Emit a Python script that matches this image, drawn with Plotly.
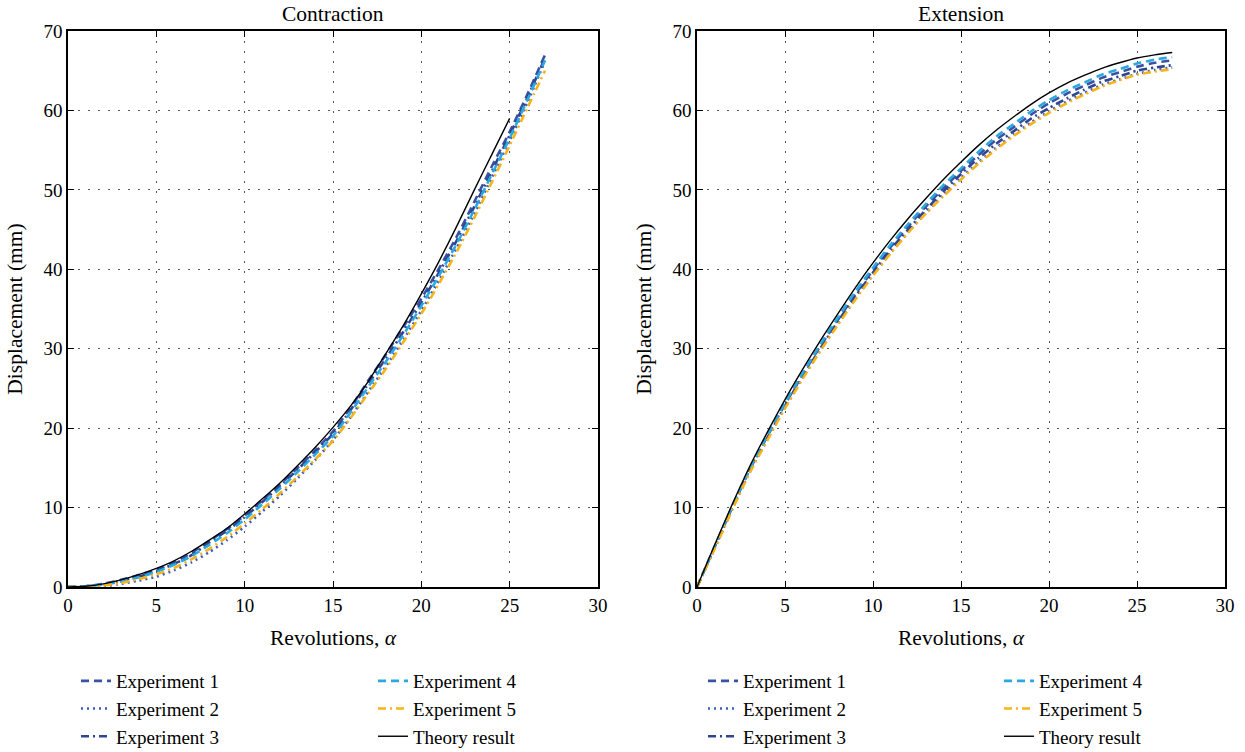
import plotly.graph_objects as go

# ---------------- data ----------------
alpha = list(range(0, 28))          # revolutions for experiments (0..27)
alpha_theory_c = list(range(0, 26)) # contraction theory (0..25)
alpha_theory_e = list(range(0, 28)) # extension theory (0..27)

# Contraction
c_theory = [0, 0.1, 0.4, 0.9, 1.55, 2.35, 3.3, 4.5, 5.9, 7.4, 9.2, 11.1, 13.1, 15.3, 17.6,
            20.1, 22.8, 25.9, 29.4, 33.0, 36.9, 41.0, 45.4, 50.0, 54.5, 59.0]
c_exp1 = [0, 0.1, 0.4, 0.9, 1.5, 2.2, 3.1, 4.3, 5.8, 7.3, 9.0, 10.9, 12.9, 15.0, 17.2, 19.6,
          22.6, 26.0, 29.3, 32.8, 36.3, 40.1, 44.1, 48.5, 53.0, 57.3, 62.0, 67.0]
c_exp2 = [0, 0, 0.1, 0.4, 0.8, 1.3, 2.1, 3.1, 4.4, 5.9, 7.6, 9.5, 11.5, 13.7, 16.0, 18.5,
          21.4, 24.6, 27.8, 31.2, 34.8, 38.6, 42.7, 47.0, 51.6, 56.2, 61.0, 66.2]
c_exp3 = [0, 0.1, 0.3, 0.8, 1.3, 2.0, 2.9, 4.0, 5.6, 7.1, 8.8, 10.7, 12.7, 14.8, 17.0, 19.3,
          22.3, 25.6, 28.8, 32.2, 35.8, 39.6, 43.6, 47.9, 52.4, 56.9, 61.6, 66.6]
c_exp4 = [0, 0.1, 0.3, 0.7, 1.2, 1.9, 2.8, 3.9, 5.3, 6.8, 8.5, 10.4, 12.4, 14.5, 16.7, 19.0,
          22.0, 25.2, 28.4, 31.8, 35.4, 39.2, 43.2, 47.5, 52.0, 56.5, 61.3, 66.3]
c_exp5 = [0, 0, 0.2, 0.5, 1.0, 1.6, 2.4, 3.5, 4.8, 6.3, 8.0, 9.8, 11.8, 13.9, 16.1, 18.4,
          21.3, 24.4, 27.5, 30.9, 34.4, 38.2, 42.2, 46.5, 51.0, 55.6, 60.3, 65.0]

# Extension
e_theory = [0, 5.3, 10.4, 15.2, 19.5, 23.6, 27.4, 31.0, 34.4, 37.7, 40.8, 43.7, 46.4, 48.9,
            51.3, 53.5, 55.6, 57.5, 59.2, 60.8, 62.2, 63.4, 64.4, 65.3, 66.0, 66.6, 67.0, 67.3]
e_exp1 = [0, 5.0, 10.0, 14.8, 19.0, 23.0, 26.7, 30.3, 33.6, 36.9, 39.9, 42.8, 45.4, 47.9,
          50.2, 52.4, 54.4, 56.3, 57.9, 59.5, 60.9, 62.1, 63.1, 64.1, 64.8, 65.5, 66.0, 66.3]
e_exp2 = [0, 4.9, 9.8, 14.5, 18.6, 22.6, 26.3, 29.8, 33.1, 36.3, 39.3, 42.1, 44.7, 47.1,
          49.4, 51.5, 53.5, 55.3, 57.0, 58.5, 59.9, 61.1, 62.2, 63.2, 63.9, 64.6, 65.1, 65.4]
e_exp3 = [0, 4.9, 9.9, 14.7, 18.8, 22.8, 26.5, 30.0, 33.4, 36.6, 39.6, 42.5, 45.0, 47.5,
          49.8, 52.0, 54.0, 55.8, 57.4, 59.0, 60.3, 61.5, 62.6, 63.6, 64.3, 65.0, 65.4, 65.7]
e_exp4 = [0, 5.1, 10.1, 14.9, 19.1, 23.2, 26.9, 30.5, 33.9, 37.2, 40.2, 43.1, 45.7, 48.2,
          50.6, 52.7, 54.8, 56.7, 58.3, 59.9, 61.3, 62.5, 63.5, 64.5, 65.2, 65.9, 66.4, 66.7]
e_exp5 = [0, 4.8, 9.7, 14.4, 18.5, 22.5, 26.2, 29.7, 33.0, 36.2, 39.2, 42.0, 44.6, 47.0,
          49.2, 51.3, 53.3, 55.1, 56.8, 58.3, 59.7, 60.9, 62.0, 63.0, 63.8, 64.5, 64.9, 65.2]

names = ["Experiment 1", "Experiment 2", "Experiment 3", "Experiment 4", "Experiment 5", "Theory result"]
titles = ["Contraction", "Extension"]
x_ticks = [0, 5, 10, 15, 20, 25, 30]
y_ticks = [0, 10, 20, 30, 40, 50, 60, 70]

# ---------------- styles ----------------
FONT = "Liberation Serif"
TITLE_SIZE = 21.5
LEG_SIZE = 19
styles = [
    dict(color="#3a52a3", dash="8px,5px", width=2.6),
    dict(color="#3c5cc0", dash="2px,4px", width=2.6),
    dict(color="#2f4590", dash="8px,4px,2px,4px", width=2.6),
    dict(color="#2aa9e0", dash="8px,5px", width=2.6),
    dict(color="#f6b418", dash="8px,4px,2px,4px", width=2.6),
    dict(color="#000000", dash="solid", width=1.4),
]

fig = go.Figure()

panels = [
    (1, [c_exp1, c_exp2, c_exp3, c_exp4, c_exp5], alpha_theory_c, c_theory, ("legend", "legend2")),
    (2, [e_exp1, e_exp2, e_exp3, e_exp4, e_exp5], alpha_theory_e, e_theory, ("legend3", "legend4")),
]

for idx, exps, ath, th, legs in panels:
    xa = "x" if idx == 1 else "x2"
    ya = "y" if idx == 1 else "y2"
    series = exps + [th]
    for k, (name, ys) in enumerate(zip(names, series)):
        xs = ath if k == 5 else alpha
        st = styles[k]
        fig.add_trace(go.Scatter(
            x=xs, y=ys, mode="lines", name=name,
            line=dict(color=st["color"], dash=st["dash"], width=st["width"], shape="spline", smoothing=0.6),
            xaxis=xa, yaxis=ya,
            legend=legs[0] if k in (0, 1, 2) else legs[1],
        ))

axis_common = dict(
    range=[0, 30], tickvals=x_ticks, ticks="inside", ticklen=6, tickwidth=1.2, tickcolor="black",
    showline=True, linecolor="black", linewidth=1.5, mirror="ticks",
    showgrid=True, gridcolor="#555555", gridwidth=1, griddash="1.5px,8.5px",
    zeroline=False, automargin=False,
    tickfont=dict(family=FONT, size=19, color="black"),
)
yaxis_common = dict(axis_common)
yaxis_common.update(range=[0, 70], tickvals=y_ticks)

dom_l = [68 / 1245, 598 / 1245]
dom_r = [697 / 1245, 1225 / 1245]
dom_y = [1 - 587 / 752, 1 - 31 / 752]

xtitle = dict(text="Revolutions, <i>α</i>", font=dict(family=FONT, size=TITLE_SIZE))
ytitle = dict(text="Displacement (mm)", font=dict(family=FONT, size=TITLE_SIZE))

fig.update_layout(
    width=1245, height=752,
    margin=dict(l=0, r=0, t=0, b=0, autoexpand=False),
    paper_bgcolor="white", plot_bgcolor="white",
    font=dict(family=FONT, size=19, color="black"),
    xaxis=dict(axis_common, domain=dom_l, anchor="y", title=xtitle),
    yaxis=dict(yaxis_common, domain=dom_y, anchor="x", title=ytitle),
    xaxis2=dict(axis_common, domain=dom_r, anchor="y2", title=xtitle),
    yaxis2=dict(yaxis_common, domain=dom_y, anchor="x2", title=ytitle),
    showlegend=True,
)

leg_common = dict(orientation="v", xanchor="left", yanchor="top", bgcolor="rgba(0,0,0,0)",
                  font=dict(family=FONT, size=LEG_SIZE, color="black"), tracegroupgap=0)
LEG_Y = 1 - 662 / 752
fig.update_layout(
    legend=dict(leg_common, x=76 / 1245, y=LEG_Y),
    legend2=dict(leg_common, x=373 / 1245, y=LEG_Y),
    legend3=dict(leg_common, x=703 / 1245, y=LEG_Y),
    legend4=dict(leg_common, x=999 / 1245, y=LEG_Y),
)

for i, t in enumerate(titles):
    d = dom_l if i == 0 else dom_r
    fig.add_annotation(text=t, x=(d[0] + d[1]) / 2, y=1 - 14 / 752, xref="paper", yref="paper",
                       showarrow=False, font=dict(family=FONT, size=TITLE_SIZE, color="black"),
                       xanchor="center", yanchor="middle")

fig.write_html("out.html")
